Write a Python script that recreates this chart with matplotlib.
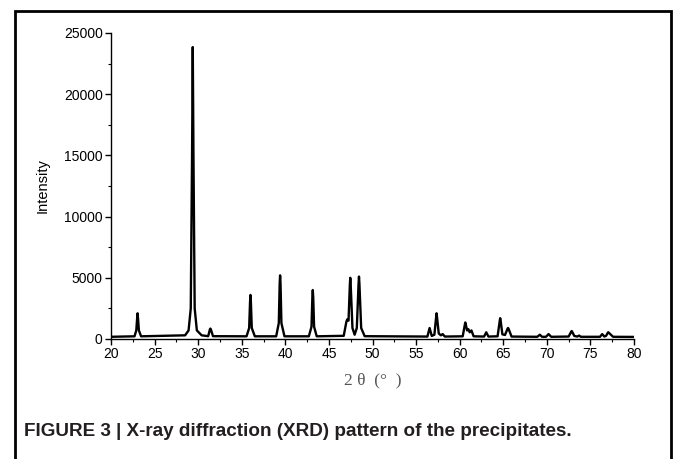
import matplotlib
matplotlib.use("Agg")
import matplotlib.pyplot as plt
from matplotlib import font_manager
from matplotlib.lines import Line2D
from matplotlib.ticker import MultipleLocator

# ---- data (2θ in degrees, intensity in counts) ----
two_theta = [20.0,
             22.7, 22.9, 23.0, 23.05, 23.1, 23.2, 23.45,
             28.5, 28.9, 29.15, 29.3, 29.38, 29.46, 29.6, 29.85, 30.4,
             31.15, 31.35, 31.4, 31.45, 31.7,
             35.55, 35.85, 35.95, 36.0, 36.05, 36.15, 36.5,
             38.95, 39.25, 39.35, 39.4, 39.45, 39.55, 39.9,
             42.7, 43.0, 43.1, 43.15, 43.2, 43.3, 43.6,
             46.7, 47.0, 47.1, 47.15, 47.25, 47.4, 47.45, 47.5, 47.7, 47.95,
             48.2, 48.4, 48.45, 48.5, 48.7, 49.1,
             56.3, 56.55, 56.8, 57.1, 57.3, 57.35, 57.4, 57.6, 57.85, 58.05, 58.3,
             60.35, 60.6, 60.65, 60.7, 60.85, 61.0, 61.15, 61.35, 61.6,
             62.8, 63.05, 63.3,
             64.35, 64.6, 64.65, 64.7, 64.9, 65.2, 65.5, 65.55, 65.6, 65.95,
             68.9, 69.2, 69.45, 69.9, 70.2, 70.5,
             72.5, 72.8, 72.85, 72.9, 73.15, 73.5, 73.7, 73.9,
             76.1, 76.35, 76.6, 76.8, 77.0, 77.05, 77.35, 77.6,
             80.0]
intensity = [180,
             220, 700, 1700, 2100, 1700, 700, 220,
             300, 700, 2500, 15000, 23850, 15000, 2500, 700, 300,
             230, 800, 850, 800, 230,
             220, 900, 3000, 3600, 3000, 900, 220,
             220, 1300, 4500, 5200, 4500, 1300, 220,
             220, 1000, 3400, 4000, 3400, 1000, 220,
             260, 1400, 1600, 1550, 1500, 4400, 5000, 4400, 900, 350,
             900, 4500, 5100, 4500, 900, 230,
             200, 900, 250, 350, 1800, 2100, 1800, 450, 300, 400, 200,
             220, 1200, 1350, 1200, 700, 800, 550, 700, 220,
             200, 550, 200,
             220, 1500, 1700, 1500, 380, 330, 850, 900, 850, 200,
             180, 350, 180, 180, 400, 180,
             200, 600, 650, 600, 250, 200, 280, 180,
             180, 400, 200, 260, 520, 550, 350, 180,
             170]

x_ticks = [20, 25, 30, 35, 40, 45, 50, 55, 60, 65, 70, 75, 80]
y_ticks = [0, 5000, 10000, 15000, 20000, 25000]

caption = "FIGURE 3 | X-ray diffraction (XRD) pattern of the precipitates."


def have(name):
    try:
        font_manager.findfont(name, fallback_to_default=False)
        return True
    except Exception:
        return False


sans = "Liberation Sans" if have("Liberation Sans") else "DejaVu Sans"
narrow = "Liberation Sans Narrow" if have("Liberation Sans Narrow") else sans
serif = "Liberation Serif" if have("Liberation Serif") else "DejaVu Serif"

plt.rcParams["font.family"] = [sans, "DejaVu Sans"]

W, H = 673, 459
fig = plt.figure(figsize=(W / 100, H / 100), dpi=100)
fig.patch.set_facecolor("white")

ax = fig.add_axes([111 / W, 1 - 339 / H, (634 - 111) / W, (339 - 33) / H])
ax.plot(two_theta, intensity, color="black", lw=1.7, solid_joinstyle="round")

ax.set_xlim(20, 80)
ax.set_ylim(0, 25000)
ax.set_xticks(x_ticks)
ax.set_yticks(y_ticks)
ax.xaxis.set_minor_locator(MultipleLocator(2.5))
ax.yaxis.set_minor_locator(MultipleLocator(2500))
for s in ("top", "right"):
    ax.spines[s].set_visible(False)
for s in ("left", "bottom"):
    ax.spines[s].set_linewidth(1.0)
ax.tick_params(which="major", direction="out", length=4, width=1.0,
               labelsize=10, pad=2)
ax.tick_params(which="minor", direction="out", length=2.5, width=0.8)

ax.set_ylabel("Intensity", fontsize=10.5, labelpad=10)
ax.set_xlabel("2 θ  (°  )", fontsize=12.5, family=[serif, "DejaVu Serif"],
              color="#555555", labelpad=8)

# figure frame (left, top, right edges)
x0, x1, yt = 14.5 / W, 671 / W, 1 - 10.5 / H
fig.add_artist(Line2D([x0, x0, x1, x1], [0, yt, yt, 0],
                      transform=fig.transFigure, color="black", lw=2.0,
                      solid_joinstyle="miter"))

fig.text(24 / W, 1 - 432 / H, caption, fontsize=13.6, fontweight="bold",
         family=[narrow, sans], color="#231f20", va="center", ha="left")

fig.savefig("out.png", dpi=100)
